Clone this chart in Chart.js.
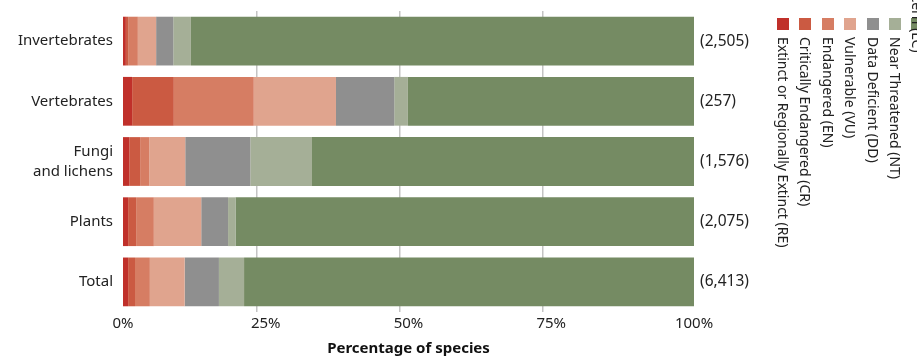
<!DOCTYPE html>
<html>
<head>
<meta charset="utf-8">
<script src="https://cdn.jsdelivr.net/npm/chart.js@4/dist/chart.umd.min.js"></script>
<style>
  html, body { margin: 0; padding: 0; background: #fff; overflow: hidden; }
  #wrap { position: relative; width: 917px; height: 356px; overflow: hidden; }
  canvas { position: absolute; left: 0; top: 0; }
  .lg { position: absolute; font-family: "Noto Sans", sans-serif; font-size: 14px; color: #222; }
  .sw { position: absolute; width: 12px; height: 12px; }
  .tx { position: absolute; writing-mode: vertical-rl; line-height: 14px; width: 14px; white-space: nowrap; }
</style>
</head>
<body>
<div id="wrap">
  <canvas id="c" width="917" height="356"></canvas>
  <div id="legend"></div>
</div>
<script>
const categories = [["Invertebrates"], ["Vertebrates"], ["Fungi", "and lichens"], ["Plants"], ["Total"]];
const speciesCounts = ["(2,505)", "(257)", "(1,576)", "(2,075)", "(6,413)"];
const seriesNames = ["Extinct or Regionally Extinct (RE)", "Critically Endangered (CR)", "Endangered (EN)", "Vulnerable (VU)", "Data Deficient (DD)", "Near Threatened (NT)", "Least Concern (LC)"];
const RE = [0.5, 1.6, 1.1, 0.9, 0.9];
const CR = [0.4, 7.3, 1.9, 1.4, 1.2];
const EN = [1.7, 14.0, 1.6, 3.1, 2.6];
const VU = [3.2, 14.4, 6.3, 8.3, 6.1];
const DD = [3.0, 10.2, 11.4, 4.7, 6.0];
const NT = [3.1, 2.4, 10.8, 1.3, 4.4];
const LC = [88.1, 50.1, 66.9, 80.3, 78.8];
const xTicks = [0, 25, 50, 75, 100];

const seriesValues = [RE, CR, EN, VU, DD, NT, LC];
const colors = ["#c0302a", "#cb5a42", "#d67d63", "#e0a48e", "#8f8f8f", "#a5af97", "#758b63"];

const FONT = "'Noto Sans', sans-serif";

new Chart(document.getElementById('c'), {
  type: 'bar',
  data: {
    labels: categories,
    datasets: seriesNames.map((n, i) => ({
      label: n,
      data: seriesValues[i],
      backgroundColor: colors[i],
      borderWidth: 0,
      barPercentage: 0.81,
      categoryPercentage: 1.0,
      xAxisID: 'x',
      yAxisID: 'y'
    }))
  },
  options: {
    indexAxis: 'y',
    responsive: false,
    animation: false,
    layout: { padding: { top: 11, left: 0, right: 0, bottom: 0 } },
    plugins: { legend: { display: false }, tooltip: { enabled: false } },
    scales: {
      xg: {
        type: 'linear',
        position: 'bottom',
        min: 1.5, max: 101.5,
        afterFit: s => { s.height = 0; s.paddingLeft = 0; s.paddingRight = 0; },
        afterBuildTicks: s => { s.ticks = [25, 50, 75].map(v => ({ value: v })); },
        grid: { display: true, color: '#c4c4c4', lineWidth: 1.5, drawTicks: false },
        border: { display: false },
        ticks: { display: false }
      },
      x: {
        stacked: true,
        min: 0, max: 100,
        position: 'bottom',
        afterFit: s => { s.height = 44; s.paddingLeft = 0; s.paddingRight = 0; },
        afterBuildTicks: s => { s.ticks = xTicks.map(v => ({ value: v })); },
        grid: { display: false, drawTicks: false },
        border: { display: false },
        ticks: {
          padding: 3,
          color: '#222',
          font: { family: FONT, size: 15 },
          callback: v => v + '%'
        },
        title: {
          display: true,
          text: 'Percentage of species',
          color: '#111',
          font: { family: FONT, size: 15, weight: 'bold' },
          padding: { top: 0, bottom: -2 }
        }
      },
      y: {
        stacked: true,
        position: 'left',
        afterFit: s => { s.width = 123; s.paddingTop = 0; s.paddingBottom = 0; },
        grid: { display: false, drawTicks: false },
        border: { display: false },
        ticks: { padding: 10, color: '#222', font: { family: FONT, size: 15, lineHeight: 1.35 } }
      },
      y2: {
        type: 'category',
        labels: speciesCounts,
        position: 'right',
        offset: true,
        afterFit: s => { s.width = 223; s.paddingTop = 0; s.paddingBottom = 0; },
        grid: { display: false, drawTicks: false },
        border: { display: false },
        ticks: { padding: 6, color: '#222', font: { family: FONT, size: 15.5 } }
      }
    }
  }
});

// Rotated legend (HTML, real text)
const lg = document.getElementById('legend');
seriesNames.forEach((n, i) => {
  const left = 777 + i * 22.4;
  const sw = document.createElement('div');
  sw.className = 'sw';
  sw.style.left = left + 'px';
  sw.style.top = '18px';
  sw.style.background = colors[i];
  lg.appendChild(sw);
  const tx = document.createElement('div');
  tx.className = 'lg tx';
  tx.style.left = (left - 1) + 'px';
  tx.style.top = '37px';
  tx.textContent = n;
  lg.appendChild(tx);
  if (i === seriesNames.length - 1) {
    tx.style.top = (52 - tx.offsetHeight) + 'px';
  }
});
</script>
</body>
</html>
